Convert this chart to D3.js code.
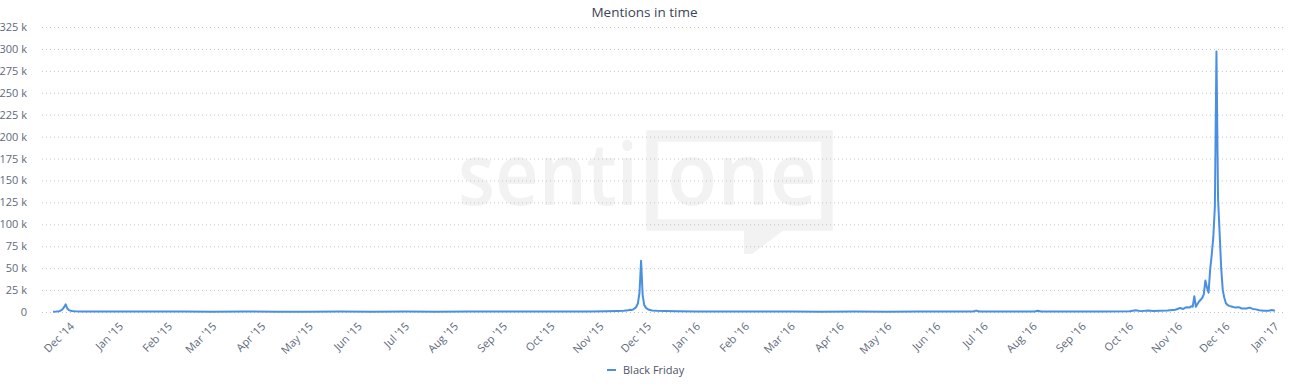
<!DOCTYPE html>
<html>
<head>
<meta charset="utf-8">
<script src="https://cdn.jsdelivr.net/npm/d3@7"></script>
<style>
  body { margin: 0; background: #fff; }
  svg { display: block; font-family: "Open Sans", sans-serif; }
</style>
</head>
<body>
<div class="chart-container"></div>
<script>
const totalWidth = 1289;
const totalHeight = 386;
const margin = {top: 27, right: 3, bottom: 74, left: 42};
const chartWidth = totalWidth - margin.left - margin.right;
const chartHeight = totalHeight - margin.top - margin.bottom;

const title = "Mentions in time";
const seriesName = "Black Friday";

// days, dense around the spikes
const days = [
  "2014-11-20","2014-11-22","2014-11-24","2014-11-25","2014-11-26","2014-11-27","2014-11-28","2014-11-29","2014-11-30",
  "2014-12-01","2014-12-02","2014-12-04","2014-12-08","2014-12-15","2014-12-22","2014-12-29","2015-01-10","2015-01-25",
  "2015-02-10","2015-03-01","2015-03-20","2015-04-10","2015-05-01","2015-05-20","2015-06-10","2015-07-01","2015-07-20",
  "2015-08-10","2015-09-01","2015-09-20","2015-10-10","2015-10-25","2015-11-05","2015-11-12","2015-11-16","2015-11-19",
  "2015-11-20","2015-11-21","2015-11-22","2015-11-23","2015-11-24","2015-11-25","2015-11-26","2015-11-27","2015-11-28","2015-11-29","2015-11-30",
  "2015-12-01","2015-12-02","2015-12-04","2015-12-07","2015-12-12","2015-12-20","2016-01-01","2016-01-20","2016-02-10","2016-03-01","2016-03-20",
  "2016-04-10","2016-05-01","2016-05-20","2016-06-10","2016-06-24","2016-06-26","2016-06-28","2016-07-15","2016-08-02","2016-08-04","2016-08-06","2016-08-25","2016-09-15",
  "2016-10-01","2016-10-05","2016-10-08","2016-10-13","2016-10-16","2016-10-20","2016-10-25","2016-10-30","2016-11-02","2016-11-04","2016-11-06","2016-11-08","2016-11-09","2016-11-10",
  "2016-11-11","2016-11-12","2016-11-13","2016-11-14","2016-11-15","2016-11-16","2016-11-17","2016-11-18","2016-11-19","2016-11-20",
  "2016-11-21","2016-11-22","2016-11-23","2016-11-24","2016-11-25","2016-11-26","2016-11-27","2016-11-28","2016-11-29","2016-11-30",
  "2016-12-01","2016-12-02","2016-12-03","2016-12-05","2016-12-07","2016-12-09","2016-12-11","2016-12-14","2016-12-16","2016-12-18","2016-12-20","2016-12-22","2016-12-25","2016-12-28","2016-12-30","2017-01-01"
];
const mentions = [
  300, 500, 900, 1800, 3200, 5500, 8800, 4000, 2200,
  1500, 1100, 900, 700, 600, 600, 500, 500, 450,
  450, 400, 450, 400, 400, 450, 400, 450, 400,
  450, 450, 500, 550, 650, 800, 1100, 1400, 1900,
  2600, 2200, 3000, 4000, 6000, 10000, 22000, 58500, 19000, 8000, 5000,
  3500, 2500, 1800, 1300, 1000, 800, 600, 500, 450, 450, 400,
  450, 400, 450, 500, 600, 1600, 600, 550, 600, 1500, 600, 600, 650,
  800, 2000, 1000, 1800, 1200, 1500, 1800, 2500, 4500, 3500, 5500, 5000, 6500, 6000,
  18000, 6000, 9000, 12000, 14000, 16000, 20000, 36000, 28000, 22000,
  48000, 65000, 85000, 120000, 297000, 130000, 90000, 50000, 25000, 16000,
  10000, 8000, 7000, 6000, 5000, 5500, 4000, 4000, 5000, 3500, 3000, 2000, 1500, 1500, 2200, 1500
];

const yTicks = [0, 25000, 50000, 75000, 100000, 125000, 150000, 175000, 200000, 225000, 250000, 275000, 300000, 325000];
const xStart = "2014-11-13";
const xEnd = "2017-01-08";

const parseDay = d3.timeParse("%Y-%m-%d");
const sample = days.map((d, i) => ({day: parseDay(d), val: mentions[i]}));

const svg = d3.select(".chart-container")
    .append("svg")
    .attr("width", totalWidth)
    .attr("height", totalHeight);

// faint watermark behind the grid
const mark = svg.append("g").attr("fill", "#f2f2f2");
mark.append("text")
    .attr("x", 458).attr("y", 205)
    .attr("font-size", 86).attr("font-weight", 600)
    .attr("textLength", 180).attr("lengthAdjust", "spacingAndGlyphs")
    .text("senti");
mark.append("path")
    .attr("d", "M652,136H827V225H652Z")
    .attr("fill", "none").attr("stroke", "#f2f2f2").attr("stroke-width", 11.5);
mark.append("path").attr("d", "M744,224H792L752,254H744Z");
mark.append("text")
    .attr("x", 667).attr("y", 205)
    .attr("font-size", 86).attr("font-weight", 600)
    .attr("textLength", 150).attr("lengthAdjust", "spacingAndGlyphs")
    .text("one");

svg.append("text")
    .attr("x", totalWidth / 2).attr("y", 17)
    .attr("text-anchor", "middle")
    .attr("font-size", 13.5)
    .attr("fill", "#3a4556")
    .text(title);

const chart = svg.append("g").attr("transform", `translate(${margin.left},${margin.top})`);

const scaleX = d3.scaleTime()
    .domain([parseDay(xStart), parseDay(xEnd)])
    .range([0, chartWidth]);

const scaleY = d3.scaleLinear()
    .domain([0, 325000])
    .range([chartHeight, 0]);

// dotted grid
chart.append("g")
    .attr("class", "grid")
    .call(d3.axisLeft(scaleY).tickValues(yTicks).tickSize(-chartWidth).tickFormat(""))
    .call(g => g.select(".domain").remove())
    .call(g => g.selectAll("line")
        .attr("stroke", "#c4c4c4")
        .attr("stroke-dasharray", "1,3"));

chart.append("g")
    .attr("class", "vertical-axis")
    .call(d3.axisLeft(scaleY).tickValues(yTicks).tickSize(0).tickPadding(15)
        .tickFormat(d => d === 0 ? "0" : d / 1000 + " k"))
    .call(g => g.select(".domain").remove())
    .call(g => g.selectAll("text")
        .attr("font-size", 11)
        .attr("font-family", "Open Sans")
        .attr("fill", "#606a7d"));

chart.append("g")
    .attr("class", "horizontal-axis")
    .attr("transform", `translate(0,${chartHeight})`)
    .call(d3.axisBottom(scaleX).ticks(d3.timeMonth.every(1)).tickSize(0)
        .tickFormat(d3.timeFormat("%b '%y")))
    .call(g => g.select(".domain").remove())
    .call(g => g.selectAll("text")
        .attr("font-size", 11)
        .attr("font-family", "Open Sans")
        .attr("fill", "#606a7d")
        .attr("text-anchor", "end")
        .attr("x", 0).attr("y", 0).attr("dy", 0)
        .attr("transform", "translate(4,15) rotate(-45)"));

const line = d3.line()
    .x(s => scaleX(s.day))
    .y(s => scaleY(s.val));

chart.append("path")
    .datum(sample)
    .attr("fill", "none")
    .attr("stroke", "#4a90e2")
    .attr("stroke-width", 2)
    .attr("stroke-linejoin", "round")
    .attr("d", line);

// legend
const legend = svg.append("g").attr("transform", `translate(607,370)`);
legend.append("line")
    .attr("x1", 0).attr("x2", 9)
    .attr("stroke", "#4a90e2").attr("stroke-width", 2);
legend.append("text")
    .attr("x", 16).attr("y", 4)
    .attr("font-size", 11)
    .attr("fill", "#4d5566")
    .text(seriesName);
</script>
</body>
</html>
